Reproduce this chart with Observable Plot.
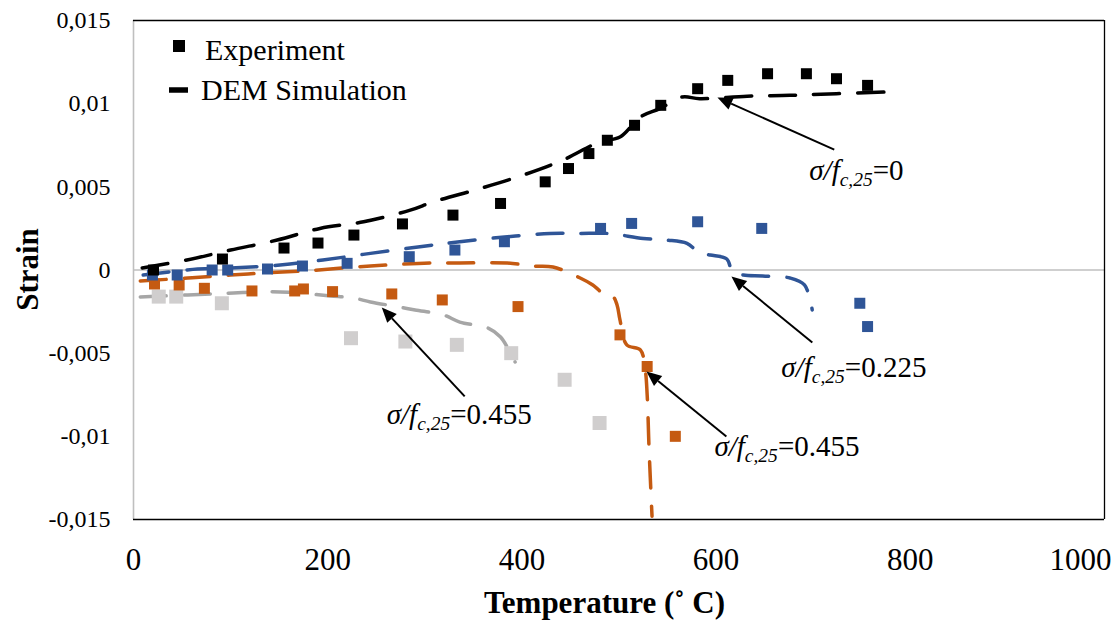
<!DOCTYPE html>
<html>
<head>
<meta charset="utf-8">
<script src="https://cdn.jsdelivr.net/npm/d3@7"></script>
<script src="https://cdn.jsdelivr.net/npm/@observablehq/plot@0.6"></script>
<style>
  html, body { margin: 0; padding: 0; background: #fff; }
  #chart svg { display: block; }
</style>
</head>
<body>
<div id="chart"></div>
<script>
// ---- Data: [temperature °C, strain] ----
const exp0 = [[20.6,0],[91.6,0.00066],[155,0.00132],[190,0.00162],[227,0.0021],[277,0.00277],[329,0.0033],[378,0.004],[424,0.0053],[448,0.0061],[469,0.007],[488,0.0078],[516,0.0087],[543,0.0099],[581,0.0109],[612,0.0114],[653,0.0118],[693,0.0118],[724,0.0115],[756,0.0111]];
const dem0 = [[9,0.00012],[55,0.0006],[100,0.0012],[148,0.0018],[192,0.0025],[237,0.0029],[285,0.0036],[309,0.0041],[357,0.0049],[401,0.0057],[442,0.0066],[480,0.0077],[501,0.008],[522,0.0092],[542,0.0097],[565,0.0104],[583,0.0103],[632,0.01045],[676,0.0105],[724,0.0106],[776,0.0107]];

const exp225 = [[19.5,-0.0003],[45,-0.0003],[81,0],[97,0],[138,0.00006],[174,0.00024],[220,0.0004],[284,0.0008],[331,0.0012],[382,0.0017],[481,0.0025],[513,0.0028],[581,0.0029],[647,0.0025],[748,-0.002],[756,-0.0034]];
const dem225 = [[10,-0.0003],[66,0.00006],[100,0.00012],[151,0.0003],[195,0.0006],[244,0.001],[295,0.0014],[336,0.0017],[385,0.002],[429,0.0022],[460,0.0022],[488,0.0022],[525,0.0019],[549,0.0018],[570,0.0016],[583,0.00102],[594,0.0009],[611,0.00066],[617,-0.00012],[628,-0.0003],[648,-0.00036],[676,-0.00048],[691,-0.0009],[699,-0.0024]];

const exp455o = [[21.6,-0.00084],[47,-0.0009],[73,-0.0011],[122,-0.00126],[166,-0.00126],[175,-0.00114],[205,-0.0013],[266,-0.00144],[318,-0.0018],[396,-0.0022],[501,-0.0039],[529,-0.0058],[558,-0.01]];
const dem455o = [[7,-0.00066],[56,-0.00048],[100,-0.0003],[134,-0.00018],[175,-0.00006],[244,0.00024],[306,0.00042],[336,0.00042],[385,0.00042],[412,0.00024],[432,0.00018],[460,-0.00048],[473,-0.0009],[488,-0.00162],[494,-0.00162],[498,-0.0021],[501,-0.003],[508,-0.0045],[522,-0.0048],[527,-0.006],[529,-0.0075],[531,-0.0108],[534,-0.0148]];

const exp455g = [[26,-0.0016],[44,-0.0016],[91,-0.002],[224,-0.0041],[280,-0.0043],[333,-0.0045],[389,-0.005],[444,-0.0066],[480,-0.0092]];
const dem455g = [[7,-0.00162],[56,-0.0015],[103,-0.00138],[151,-0.00132],[203,-0.00156],[226,-0.00168],[244,-0.00192],[273,-0.00222],[290,-0.0024],[319,-0.0027],[336,-0.00313],[365,-0.00349],[378,-0.00403],[393,-0.00553]];

// ---- Ticks ----
const xTicks = [0, 200, 400, 600, 800];
const xTickLast = [1000];
const yTicks = [-0.015, -0.01, -0.005, 0, 0.005, 0.01, 0.015];

// ---- Annotations ----
const labelTexts = [
  {t: 696.5, s: 0.00541, val: "0"},
  {t: 667.7, s: -0.00649, val: "0.225"},
  {t: 261.3, s: -0.00931, val: "0.455"},
  {t: 598.8, s: -0.01124, val: "0.455"}
];
const arrowDefs = [
  {t1: 722.2, s1: 0.00721, t2: 601.9, s2: 0.01034},
  {t1: 699.6, s1: -0.00439, t2: 616.3, s2: -0.00042},
  {t1: 341.6, s1: -0.00763, t2: 256.2, s2: -0.00228},
  {t1: 611.1, s1: -0.01004, t2: 528.8, s2: -0.00613}
];
const legendItems = ["Experiment", "DEM Simulation"];
const xTitle = "Temperature (˚ C)";
const yTitle = "Strain";

const serif = "'Liberation Serif', 'Times New Roman', serif";
const C = {black: "#000000", blue: "#2F5597", orange: "#C55A11", grayLine: "#A6A6A6", grayPt: "#D0CECE", axis: "#BFBFBF"};
const fmt = d => d === 0 ? "0" : String(d).replace(".", ",");
const sq = side => side / Math.sqrt(Math.PI);
const dash = {strokeWidth: 3.5, strokeDasharray: "26 18", strokeLinecap: "round", curve: "catmull-rom"};

function overlay(index, scales, values, dims) {
  const sx = scales.x, sy = scales.y;
  const g = d3.create("svg:g").attr("text-anchor", "start");
  const mL = dims.marginLeft, mT = dims.marginTop;
  // arrows
  for (const a of arrowDefs) {
    const x1 = sx(a.t1), y1 = sy(a.s1), x2 = sx(a.t2), y2 = sy(a.s2);
    const ang = Math.atan2(y2 - y1, x2 - x1);
    const L = 15, W = 6.5;
    const bx = x2 - L * Math.cos(ang), by = y2 - L * Math.sin(ang);
    g.append("line").attr("x1", x1).attr("y1", y1).attr("x2", bx).attr("y2", by)
      .attr("stroke", "#000").attr("stroke-width", 2);
    const px = -Math.sin(ang) * W, py = Math.cos(ang) * W;
    g.append("path").attr("d", `M${x2},${y2}L${bx + px},${by + py}L${bx - px},${by - py}Z`).attr("fill", "#000");
  }
  // labels
  for (const l of labelTexts) {
    const t = g.append("text").attr("x", sx(l.t)).attr("y", sy(l.s)).attr("text-anchor", "start")
      .attr("font-family", serif).attr("font-size", 29).attr("fill", "#000");
    t.append("tspan").attr("font-style", "italic").text("σ/f");
    t.append("tspan").attr("font-style", "italic").attr("font-size", 19.5).attr("dy", 6).text("c,25");
    t.append("tspan").attr("dy", -6).text("=" + l.val);
  }
  // legend
  g.append("rect").attr("x", mL + 40).attr("y", mT + 20).attr("width", 12).attr("height", 12).attr("fill", "#000");
  g.append("line").attr("x1", mL + 36).attr("x2", mL + 55).attr("y1", mT + 70).attr("y2", mT + 70)
    .attr("stroke", "#000").attr("stroke-width", 5.5);
  g.append("text").attr("x", mL + 72).attr("y", mT + 40).attr("text-anchor", "start").attr("font-family", serif).attr("font-size", 30).attr("fill", "#000").text(legendItems[0]);
  g.append("text").attr("x", mL + 68).attr("y", mT + 80).attr("text-anchor", "start").attr("font-family", serif).attr("font-size", 30).attr("fill", "#000").text(legendItems[1]);
  // axis titles
  const cy = (mT + dims.height - dims.marginBottom) / 2;
  g.append("text").attr("transform", `translate(27,${cy}) rotate(-90)`).attr("text-anchor", "middle")
    .attr("dominant-baseline", "central").attr("font-family", serif).attr("font-weight", "bold").attr("font-size", 31).attr("fill", "#000").text(yTitle);
  const cx = (mL + dims.width - dims.marginRight) / 2 - 14;
  g.append("text").attr("x", cx).attr("y", dims.height - 11).attr("text-anchor", "middle")
    .attr("font-family", serif).attr("font-weight", "bold").attr("font-size", 31).attr("fill", "#000").text(xTitle);
  return g.node();
}

const plot = Plot.plot({
  width: 1114,
  height: 624,
  marginLeft: 133,
  marginRight: 10,
  marginTop: 20,
  marginBottom: 105,
  x: {domain: [0, 1000], axis: null},
  y: {domain: [-0.015, 0.015], axis: null},
  style: {fontFamily: serif, fontSize: "24px", color: "#000", background: "#fff", overflow: "visible"},
  marks: [
    Plot.ruleY([0], {stroke: C.axis, strokeWidth: 1.6}),
    Plot.ruleX([0], {stroke: C.axis, strokeWidth: 1.6}),
    Plot.ruleY([0.015, -0.015], {stroke: "#000", strokeWidth: 1.3}),
    Plot.ruleX([1000], {stroke: "#000", strokeWidth: 1.3}),
    Plot.text(xTicks, {x: d => d, frameAnchor: "bottom", lineAnchor: "top", dy: 28, text: d => String(d), fontSize: 31, fill: "#000"}),
    Plot.text(xTickLast, {x: d => d, frameAnchor: "bottom", lineAnchor: "top", dy: 28, dx: 7, text: d => String(d), fontSize: 31, fill: "#000", textAnchor: "end"}),
    Plot.text(yTicks, {y: d => d, frameAnchor: "left", dx: -23, textAnchor: "end", text: fmt, fontSize: 24, fill: "#000"}),

    Plot.line(dem455g, {stroke: C.grayLine, ...dash}),
    Plot.dot(exp455g, {x: d => d[0], y: d => d[1], symbol: "square", r: sq(14), fill: C.grayPt}),
    Plot.line(dem455o, {stroke: C.orange, ...dash}),
    Plot.dot(exp455o, {x: d => d[0], y: d => d[1], symbol: "square", r: sq(11), fill: C.orange}),
    Plot.line(dem225, {stroke: C.blue, ...dash}),
    Plot.dot(exp225, {x: d => d[0], y: d => d[1], symbol: "square", r: sq(11), fill: C.blue}),
    Plot.line(dem0, {stroke: C.black, ...dash}),
    Plot.dot(exp0, {x: d => d[0], y: d => d[1], symbol: "square", r: sq(11), fill: C.black}),

    overlay
  ]
});
document.getElementById("chart").appendChild(plot);
</script>
</body>
</html>
